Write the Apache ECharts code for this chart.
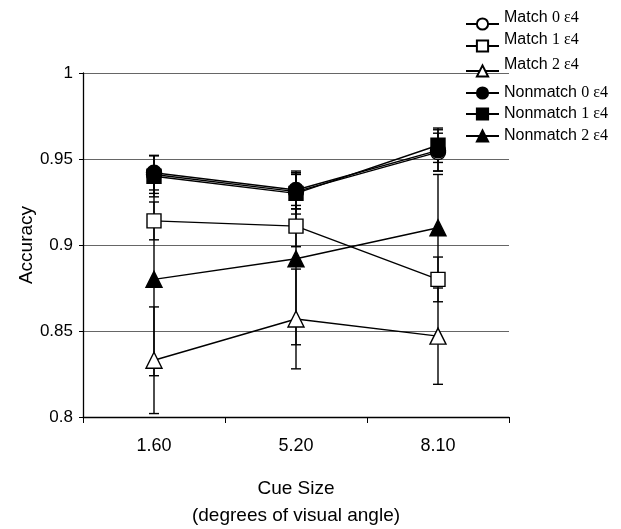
<!DOCTYPE html>
<html>
<head>
<meta charset="utf-8">
<script src="https://cdn.jsdelivr.net/npm/echarts@6/dist/echarts.min.js"></script>
<style>html,body{margin:0;padding:0;background:#fff;}#c{width:621px;height:529px;}</style>
</head>
<body>
<div id="c"></div>
<script>
var categories = ['1.60', '5.20', '8.10'];
var seriesNames = ['Match 0 ε4', 'Match 1 ε4', 'Match 2 ε4', 'Nonmatch 0 ε4', 'Nonmatch 1 ε4', 'Nonmatch 2 ε4'];
var match0 = [0.941, 0.931, 0.954];
var match1 = [0.914, 0.911, 0.880];
var match2 = [0.833, 0.857, 0.847];
var nonmatch0 = [0.942, 0.932, 0.955];
var nonmatch1 = [0.940, 0.930, 0.958];
var nonmatch2 = [0.880, 0.892, 0.910];
var err0m = [0.011, 0.010, 0.011];
var err1m = [0.011, 0.012, 0.013];
var err2m = [0.031, 0.029, 0.028];
var err0n = [0.010, 0.011, 0.012];
var err1n = [0.012, 0.012, 0.010];
var err2n = [0.056, 0.050, 0.031];
var yTicks = [0.8, 0.85, 0.9, 0.95, 1];

var values = [match0, match1, match2, nonmatch0, nonmatch1, nonmatch2];
var errors = [err0m, err1m, err2m, err0n, err1n, err2n];
var symbols = ['circle', 'rect', 'triangle', 'circle', 'rect', 'triangle'];
var filled = [false, false, false, true, true, true];

var errData = [];
values.forEach(function (v, s) {
  v.forEach(function (y, i) {
    errData.push([i, y - errors[s][i], y + errors[s][i]]);
  });
});

var series = [{
  type: 'custom',
  name: 'err',
  z: 1,
  silent: true,
  data: errData,
  renderItem: function (params, api) {
    var lo = api.coord([api.value(0), api.value(1)]);
    var hi = api.coord([api.value(0), api.value(2)]);
    var w = 5;
    var st = { stroke: '#000', lineWidth: 1.4 };
    return {
      type: 'group',
      children: [
        { type: 'line', shape: { x1: lo[0], y1: lo[1], x2: hi[0], y2: hi[1] }, style: st },
        { type: 'line', shape: { x1: lo[0] - w, y1: lo[1], x2: lo[0] + w, y2: lo[1] }, style: st },
        { type: 'line', shape: { x1: hi[0] - w, y1: hi[1], x2: hi[0] + w, y2: hi[1] }, style: st }
      ]
    };
  }
}];

values.forEach(function (v, s) {
  series.push({
    type: 'line',
    name: seriesNames[s],
    data: v,
    z: 3 + s,
    symbol: symbols[s],
    symbolSize: symbols[s] === 'triangle' ? 16 : (symbols[s] === 'rect' ? 14 : 15),
    showAllSymbol: true,
    lineStyle: { color: '#000', width: 1.4 },
    itemStyle: { color: filled[s] ? '#000' : '#fff', borderColor: '#000', borderWidth: 1.4 },
    emphasis: { disabled: true },
    animation: false
  });
});

var legendTops = [10, 32, 57, 85, 106, 128];
var legends = seriesNames.map(function (n, i) {
  return {
    data: [n],
    left: 465,
    top: legendTops[i],
    padding: 0,
    itemWidth: 33,
    itemHeight: 14,
    selectedMode: false,
    formatter: function (name) {
      var k = name.indexOf(' ');
      return '{a|' + name.slice(0, k + 1) + '}{s|' + name.slice(k + 1) + '}';
    },
    textStyle: {
      color: '#000',
      padding: i < 3 ? [0, 0, 12, 0] : 0,
      rich: {
        a: { fontFamily: 'Liberation Sans', fontSize: 16, color: '#000' },
        s: { fontFamily: 'Liberation Serif', fontSize: 16, color: '#000' }
      }
    }
  };
});

var chart = echarts.init(document.getElementById('c'), null, { renderer: 'canvas' });
chart.setOption({
  animation: false,
  backgroundColor: '#fff',
  grid: { left: 83, right: 112, top: 73, bottom: 112, containLabel: false, outerBoundsMode: 'none' },
  legend: legends,
  xAxis: {
    type: 'category',
    data: categories,
    boundaryGap: true,
    axisLine: { lineStyle: { color: '#000', width: 1.3 } },
    axisTick: { show: true, length: 6, lineStyle: { color: '#000' } },
    axisLabel: { fontFamily: 'Liberation Sans', fontSize: 18, color: '#000', margin: 20 },
    name: 'Cue Size\n(degrees of visual angle)',
    nameLocation: 'middle',
    nameGap: 58,
    nameTextStyle: { fontFamily: 'Liberation Sans', fontSize: 19, color: '#000', lineHeight: 27 }
  },
  yAxis: {
    type: 'value',
    min: 0.8,
    max: 1,
    interval: 0.05,
    axisLine: { show: true, lineStyle: { color: '#000', width: 1.3 } },
    axisTick: { show: true, length: 4, lineStyle: { color: '#000' } },
    axisLabel: { fontFamily: 'Liberation Sans', fontSize: 17, color: '#000', margin: 10,
      formatter: function (v) { return String(Math.round(v * 100) / 100); } },
    splitLine: { show: true, lineStyle: { color: '#666', width: 1 } },
    name: 'Accuracy',
    nameLocation: 'middle',
    nameGap: 47,
    nameMoveOverlap: false,
    nameRotate: 90,
    nameTextStyle: { fontFamily: 'Liberation Sans', fontSize: 19, color: '#000' }
  },
  series: series
});
</script>
</body>
</html>
